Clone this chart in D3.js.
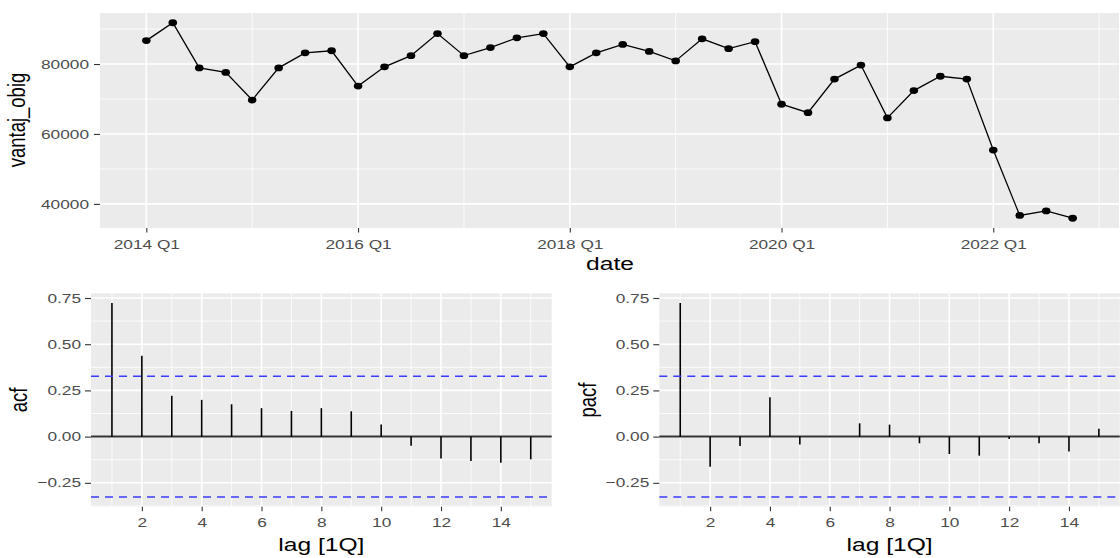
<!DOCTYPE html>
<html>
<head>
<meta charset="utf-8">
<script src="https://cdn.jsdelivr.net/npm/d3@7"></script>
<style>
  body { margin: 0; background: #fff; }
  text { font-family: "Liberation Sans", Arial, sans-serif; }
</style>
</head>
<body>
<div id="chart"></div>
<script>
// quarterly series, 2014 Q1 .. 2022 Q4
const startQuarter = "2014 Q1";
const vantajObig = [
  86700, 91800, 78900, 77600, 69700, 78900, 83200, 83800,
  73700, 79200, 82400, 88700, 82400, 84700, 87500, 88700,
  79200, 83200, 85600, 83600, 80900, 87200, 84400, 86400,
  68500, 66100, 75700, 79700, 64600, 72400, 76500, 75700,
  55400, 36700, 38000, 35900
];
const dateTicks = ["2014 Q1", "2016 Q1", "2018 Q1", "2020 Q1", "2022 Q1"];
const dateMinor = ["2015 Q1", "2017 Q1", "2019 Q1", "2021 Q1", "2023 Q1"];
const obigTicks = [40000, 60000, 80000];
const obigMinor = [50000, 70000, 90000];

// correlograms
const lags = [1, 2, 3, 4, 5, 6, 7, 8, 9, 10, 11, 12, 13, 14, 15];
const acfValues = [0.723, 0.438, 0.221, 0.199, 0.175, 0.154, 0.139, 0.154, 0.137, 0.065, -0.049, -0.118, -0.132, -0.141, -0.123];
const pacfValues = [0.723, -0.163, -0.051, 0.213, -0.043, 0.002, 0.072, 0.065, -0.036, -0.094, -0.103, -0.013, -0.036, -0.081, 0.042];
const ciBound = 0.3267;
const lagTicks = [2, 4, 6, 8, 10, 12, 14];
const lagMinor = [1, 3, 5, 7, 9, 11, 13, 15];
const cfTicks = [-0.25, 0, 0.25, 0.5, 0.75];
const cfMinor = [-0.375, -0.125, 0.125, 0.375, 0.625];

const SX = 1.33;           // picture is stretched horizontally
const tickFont = 13, titleFont = 18.5;

const svg = d3.select("#chart").append("svg")
  .attr("width", 1120).attr("height", 558);

const qIndex = q => (+q.slice(0, 4) - +startQuarter.slice(0, 4)) * 4 + (+q.slice(-1)) - (+startQuarter.slice(-1));

// ggplot style 5% expansion
function expand(lo, hi) { const p = (hi - lo) * 0.05; return [lo - p, hi + p]; }

function panel(x, y, xMaj, xMin, yMaj, yMin) {
  const [x0, x1] = x.range(), [y0, y1] = y.range();
  const g = svg.append("g");
  g.append("rect").attr("x", x0).attr("y", y1).attr("width", x1 - x0).attr("height", y0 - y1).attr("fill", "#EBEBEB");
  const minor = g.append("g").attr("stroke", "#fff").attr("stroke-width", 0.8);
  minor.selectAll(".hy").data(yMin).join("line")
    .attr("x1", x0).attr("x2", x1).attr("y1", d => y(d)).attr("y2", d => y(d));
  minor.selectAll(".vx").data(xMin).join("line")
    .attr("y1", y0).attr("y2", y1).attr("x1", d => x(d)).attr("x2", d => x(d));
  const major = g.append("g").attr("stroke", "#fff").attr("stroke-width", 1.6);
  major.selectAll(".hy").data(yMaj).join("line")
    .attr("x1", x0).attr("x2", x1).attr("y1", d => y(d)).attr("y2", d => y(d));
  major.selectAll(".vx").data(xMaj).join("line")
    .attr("y1", y0).attr("y2", y1).attr("x1", d => x(d)).attr("x2", d => x(d));
}

function axes(x, y, xVals, xFmt, yVals, yFmt, yPad) {
  const gx = svg.append("g").attr("transform", `translate(0,${y.range()[0]})`)
    .call(d3.axisBottom(x).tickValues(xVals).tickFormat(xFmt).tickSize(4.5).tickPadding(7));
  const gy = svg.append("g").attr("transform", `translate(${x.range()[0]},0)`)
    .call(d3.axisLeft(y).tickValues(yVals).tickFormat(yFmt).tickSize(6).tickPadding(yPad));
  [gx, gy].forEach(g => {
    g.select(".domain").remove();
    g.attr("font-size", tickFont).attr("font-family", null);
    g.selectAll("line").attr("stroke", "#333").attr("stroke-width", 1.1);
    g.selectAll("text").attr("fill", "#4D4D4D").attr("transform", `scale(${SX},1)`);
  });
  gy.selectAll("text").attr("x", -(6 + yPad) / SX);
}

function xTitle(label, cx, baseline) {
  svg.append("text").attr("text-anchor", "middle").attr("font-size", titleFont)
    .attr("transform", `translate(${cx},${baseline}) scale(${SX},1)`).text(label);
}
function yTitle(label, baseline, cy) {
  svg.append("text").attr("text-anchor", "middle").attr("font-size", titleFont)
    .attr("transform", `translate(${baseline},${cy}) scale(${SX},1) rotate(-90)`).text(label);
}

// ---- top: time series ----
const xTop = d3.scaleLinear().domain(expand(0, vantajObig.length - 1)).range([100, 1119]);
const yTop = d3.scaleLinear().domain(expand(d3.min(vantajObig), d3.max(vantajObig))).range([228, 13]);
panel(xTop, yTop, dateTicks.map(qIndex), dateMinor.map(qIndex), obigTicks, obigMinor);

const line = d3.line().x((d, i) => xTop(i)).y(d => yTop(d));
svg.append("path").datum(vantajObig)
  .attr("d", line).attr("fill", "none").attr("stroke", "#000").attr("stroke-width", 1.3);
svg.append("g").selectAll("ellipse").data(vantajObig).join("ellipse")
  .attr("cx", (d, i) => xTop(i)).attr("cy", d => yTop(d))
  .attr("rx", 4.3).attr("ry", 3.4).attr("fill", "#000");

axes(xTop, yTop, dateTicks.map(qIndex), (d, i) => dateTicks[i], obigTicks, d3.format("d"), 5);
xTitle("date", 610, 270);
yTitle("vantaj_obig", 25, 120);

// ---- bottom: acf / pacf ----
const cfDomain = expand(Math.min(-ciBound, d3.min(acfValues), d3.min(pacfValues)),
                        Math.max(ciBound, d3.max(acfValues), d3.max(pacfValues)));

function correlogram(values, left, right, label, labelX) {
  const x = d3.scaleLinear().domain(expand(d3.min(lags), d3.max(lags))).range([left, right]);
  const y = d3.scaleLinear().domain(cfDomain).range([506.7, 293.3]);
  panel(x, y, lagTicks, lagMinor, cfTicks, cfMinor);

  svg.append("line").attr("x1", left).attr("x2", right).attr("y1", y(0)).attr("y2", y(0))
    .attr("stroke", "#333").attr("stroke-width", 2);
  svg.append("g").selectAll("line").data(values).join("line")
    .attr("x1", (d, i) => x(lags[i])).attr("x2", (d, i) => x(lags[i]))
    .attr("y1", y(0)).attr("y2", d => y(d))
    .attr("stroke", "#000").attr("stroke-width", 1.6);
  svg.append("g").selectAll("line").data([ciBound, -ciBound]).join("line")
    .attr("x1", left).attr("x2", right).attr("y1", d => y(d)).attr("y2", d => y(d))
    .attr("stroke", "#3b3bff").attr("stroke-width", 1.4).attr("stroke-dasharray", "8,6");

  axes(x, y, lagTicks, d3.format("d"), cfTicks, d3.format(".2f"), 4);
  xTitle("lag [1Q]", (left + right) / 2, 551);
  yTitle(label, labelX, 400);
}

correlogram(acfValues, 91, 551.7, "acf", 26.5);
correlogram(pacfValues, 659.3, 1119.8, "pacf", 595.5);
</script>
</body>
</html>
